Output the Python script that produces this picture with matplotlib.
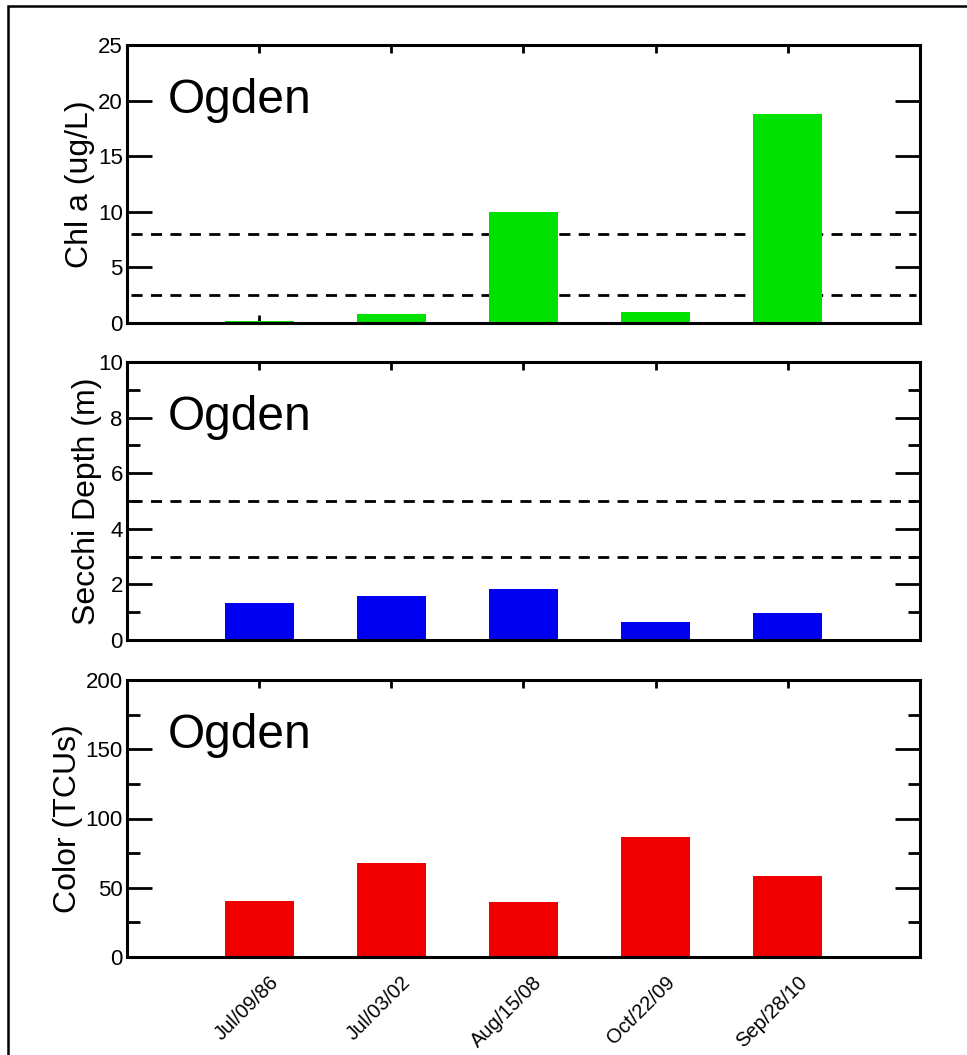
import numpy as np
import matplotlib
matplotlib.use("Agg")
import matplotlib.pyplot as plt
import matplotlib.transforms as mtransforms
from matplotlib.patches import Rectangle

plt.rcParams['font.family'] = ['Liberation Sans', 'DejaVu Sans']

# data
dates = ['Jul/09/86', 'Jul/03/02', 'Aug/15/08', 'Oct/22/09', 'Sep/28/10']
chla = [0.15, 0.8, 10.0, 1.0, 18.8]
secchi = [1.33, 1.58, 1.83, 0.65, 0.97]
color_tcu = [40.4, 67.9, 39.7, 86.6, 58.5]

chla_lines = [8, 2.5]
secchi_lines = [5, 3]

site = 'Ogden'

panels = [
    dict(vals=chla, col='#00E100', ylab='Chl a (ug/L)', ymax=25, major=5, minor=None,
         hlines=chla_lines, labx=-0.040),
    dict(vals=secchi, col='#0000F0', ylab='Secchi Depth (m)', ymax=10, major=2, minor=1,
         hlines=secchi_lines, labx=-0.032),
    dict(vals=color_tcu, col='#F00000', ylab='Color (TCUs)', ymax=200, major=50, minor=25,
         hlines=[], labx=-0.055),
]

W, H = 967, 1055
fig = plt.figure(figsize=(W / 100, H / 100), dpi=100)

# axes boxes in pixels: left, top, right, bottom
boxes = [(127, 45, 920, 323), (127, 362, 920, 640), (127, 680, 920, 957)]

x = np.arange(1, len(dates) + 1)

for box, p in zip(boxes, panels):
    l, t, r, b = box
    ax = fig.add_axes([l / W, 1 - b / H, (r - l) / W, (b - t) / H])
    ax.bar(x, p['vals'], width=0.52, color=p['col'], zorder=2)
    for h in p['hlines']:
        ax.axhline(h, color='black', lw=2, ls=(0, (4, 3)), zorder=1, xmin=0.005, xmax=0.995)
    ax.set_xlim(0, 6)
    ax.set_ylim(0, p['ymax'])
    ax.set_yticks(np.arange(0, p['ymax'] + 0.01, p['major']))
    if p['minor']:
        ax.set_yticks(np.arange(0, p['ymax'] + 0.01, p['minor']), minor=True)
    ax.set_xticks(x)
    ax.tick_params(axis='y', which='major', direction='in', length=18, width=2,
                   left=True, right=True, labelsize=16, pad=3)
    ax.tick_params(axis='y', which='minor', direction='in', length=9, width=2,
                   left=True, right=True)
    ax.tick_params(axis='x', which='major', direction='in', length=6, width=2,
                   top=True, bottom=True, labelsize=14.5, pad=0)
    for s in ax.spines.values():
        s.set_linewidth(2.2)
    ax.set_ylabel(p['ylab'], fontsize=23)
    ax.yaxis.set_label_coords(p['labx'], 0.5)
    ax.text(0.052, 0.755, site, transform=ax.transAxes, fontsize=34.5, va='baseline')
    if p is panels[-1]:
        ax.set_xticklabels(dates, rotation=45, ha='right', va='center', rotation_mode='anchor')
        shift = mtransforms.ScaledTranslation(16 / 100, -22 / 100, fig.dpi_scale_trans)
        for lab in ax.get_xticklabels():
            lab.set_transform(lab.get_transform() + shift)
    else:
        ax.set_xticklabels([])

# outer frame, cut off at right and bottom like the reference
fig.patches.append(Rectangle((8 / W, -0.1), 1.2, 1 - 6 / H + 0.1, transform=fig.transFigure,
                             fill=False, edgecolor='black', lw=1.8, zorder=0))

fig.savefig('out.png', dpi=100)
